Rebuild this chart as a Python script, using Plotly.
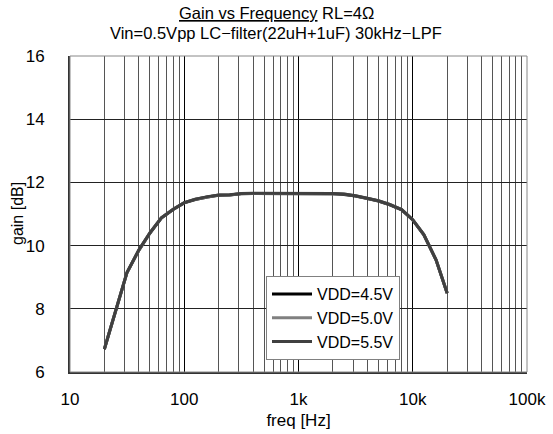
import plotly.graph_objects as go

# Sweep frequencies (Hz) and measured gain (dB) for each supply voltage
freq_hz = [20, 25, 31.5, 40, 50, 63, 80, 100, 125, 160, 200, 250, 315, 400, 500,
           630, 800, 1000, 1250, 1600, 2000, 2500, 3150, 4000, 5000, 6300, 8000,
           10000, 12500, 16000, 20000]
gain_vdd45 = [6.72, 7.92, 9.14, 9.85, 10.39, 10.87, 11.14, 11.35, 11.46, 11.54, 11.59,
              11.60, 11.64, 11.65, 11.65, 11.65, 11.65, 11.65, 11.65, 11.65, 11.64,
              11.62, 11.57, 11.49, 11.41, 11.29, 11.13, 10.81, 10.34, 9.54, 8.49]
gain_vdd50 = [6.73, 7.93, 9.15, 9.85, 10.40, 10.88, 11.15, 11.36, 11.47, 11.54, 11.60,
              11.60, 11.65, 11.65, 11.65, 11.65, 11.65, 11.65, 11.65, 11.65, 11.65,
              11.63, 11.58, 11.50, 11.42, 11.30, 11.14, 10.82, 10.35, 9.55, 8.50]
gain_vdd55 = [6.73, 7.93, 9.15, 9.86, 10.40, 10.88, 11.15, 11.36, 11.47, 11.55, 11.60,
              11.61, 11.65, 11.66, 11.66, 11.66, 11.66, 11.66, 11.66, 11.66, 11.65,
              11.63, 11.58, 11.50, 11.42, 11.30, 11.14, 10.82, 10.35, 9.55, 8.50]

series_names = ["VDD=4.5V", "VDD=5.0V", "VDD=5.5V"]
series_colors = ["#000000", "#808080", "#404040"]

x_tick_vals = [10, 100, 1000, 10000, 100000]
x_tick_text = ["10", "100", "1k", "10k", "100k"]
y_tick_vals = [6, 8, 10, 12, 14, 16]

title_lines = ["<u>Gain vs Frequency</u> RL=4Ω",
               "Vin=0.5Vpp LC−filter(22uH+1uF) 30kHz−LPF"]
y_title = "gain [dB]"

FONT = "Liberation Sans, Arial, sans-serif"
W, H = 553, 434
M_L, M_R, M_T, M_B = 70, 26, 56, 62
plot_w = W - M_L - M_R
plot_h = H - M_T - M_B

fig = go.Figure()
for name, color, gains in zip(series_names, series_colors,
                              [gain_vdd45, gain_vdd50, gain_vdd55]):
    fig.add_trace(go.Scatter(
        x=freq_hz, y=gains, mode="lines", name=name,
        line=dict(color=color, width=3),
    ))

# two-line title, positioned in pixels above the plot area
annotations = []
for text, ypx in zip(title_lines, [13.5, 33]):
    annotations.append(dict(
        text=text, xref="paper", yref="paper",
        x=(276 - M_L) / plot_w, y=1 + (M_T - ypx) / plot_h,
        xanchor="center", yanchor="middle", showarrow=False,
        font=dict(size=16.5, family=FONT),
    ))

# rotated y-axis title
annotations.append(dict(
    text=y_title, xref="paper", yref="paper",
    x=(17 - M_L) / plot_w, y=0.5, textangle=-90,
    xanchor="center", yanchor="middle", showarrow=False,
    font=dict(size=16, family=FONT),
))

fig.update_layout(
    width=W, height=H,
    margin=dict(l=M_L, r=M_R, t=M_T, b=M_B, autoexpand=False),
    paper_bgcolor="white", plot_bgcolor="white",
    font=dict(family=FONT, color="#000000"),
    showlegend=True,
    legend=dict(
        x=(266 - M_L) / plot_w, y=(H - M_B - 276) / plot_h,
        xanchor="left", yanchor="top",
        bgcolor="white", bordercolor="#808080", borderwidth=1,
        font=dict(size=16, family=FONT),
        tracegroupgap=0, itemwidth=40,
    ),
    annotations=annotations,
)

fig.update_xaxes(
    type="log", range=[1, 5], automargin=False,
    tickvals=x_tick_vals, ticktext=x_tick_text,
    tickfont=dict(size=17), ticks="", ticklabelstandoff=11,
    showgrid=True, gridcolor="#000000", gridwidth=1,
    minor=dict(dtick="D1", showgrid=True, gridcolor="#555555", gridwidth=1),
    showline=True, linecolor="#333333", linewidth=2, mirror=False,
    title=dict(text="freq [Hz]", font=dict(size=17), standoff=6),
    zeroline=False,
)
fig.update_yaxes(
    range=[6, 16], tickvals=y_tick_vals, automargin=False,
    tickfont=dict(size=17), ticks="", ticklabelstandoff=20,
    showgrid=True, gridcolor="#222222", gridwidth=1,
    showline=True, linecolor="#333333", linewidth=2,
    zeroline=False,
)

# light frame on the top and right edges of the plot area
fig.add_shape(type="rect", xref="paper", yref="paper", x0=0, y0=0, x1=1, y1=1,
              line=dict(color="#888888", width=1), layer="above")

fig.write_html("out.html")
